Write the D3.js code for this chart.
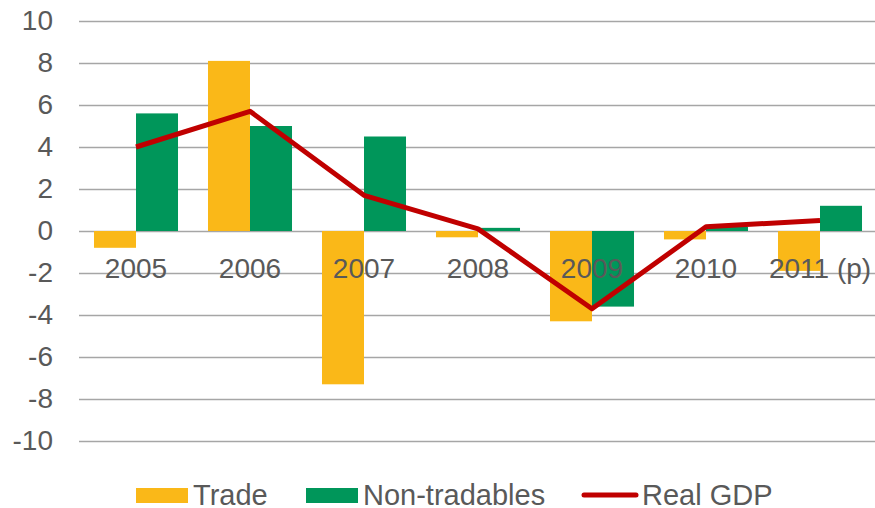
<!DOCTYPE html>
<html>
<head>
<meta charset="utf-8">
<script src="https://cdn.jsdelivr.net/npm/d3@7"></script>
<style>
  body { margin: 0; background: #fff; }
  text { font-family: "Liberation Sans", Arial, sans-serif; fill: #595959; }
</style>
</head>
<body>
<div id="chart"></div>
<script>
// data
var years = ["2005", "2006", "2007", "2008", "2009", "2010", "2011 (p)"]
var trade = [-0.8, 8.1, -7.3, -0.3, -4.3, -0.4, -1.9]
var nonTradables = [5.6, 5.0, 4.5, 0.15, -3.6, 0.2, 1.2]
var realGdp = [4.0, 5.7, 1.7, 0.1, -3.7, 0.2, 0.5]
var yTicks = [-10, -8, -6, -4, -2, 0, 2, 4, 6, 8, 10]

var svgWidth = 875
var svgHeight = 508

var margin = { top: 21, left: 79, right: -2 }
var plotBottom = 441

var svg = d3.select("#chart").append("svg")
    .attr("width", svgWidth)
    .attr("height", svgHeight)

var x = d3.scaleBand()
    .domain(years)
    .range([margin.left, svgWidth - margin.right])
    .paddingInner(0.263)
    .paddingOuter(0.1315)

var xSub = d3.scaleBand()
    .domain(["trade", "non"])
    .range([0, x.bandwidth()])

var y = d3.scaleLinear().domain([-10, 10]).range([plotBottom, margin.top])

// gridlines + y labels
var yAxis = d3.axisLeft(y)
    .tickValues(yTicks)
    .tickSize(-(svgWidth - margin.left))
    .tickPadding(26)
    .tickFormat(d => String(d))

var yG = svg.append("g")
    .attr("transform", `translate(${margin.left},0)`)
    .call(yAxis)
yG.select(".domain").remove()
yG.selectAll("line").attr("stroke", "#a6a6a6").attr("stroke-width", 1.6)
yG.selectAll("text")
    .attr("font-size", 28)
    .attr("fill", "#595959")
    .attr("font-family", "Liberation Sans, Arial, sans-serif")

// bars
var series = [
    { key: "trade", values: trade, color: "#fab818" },
    { key: "non", values: nonTradables, color: "#00965a" }
]

series.forEach(s => {
    svg.append("g").selectAll("rect")
        .data(s.values)
        .enter()
        .append("rect")
        .attr("x", (d, i) => x(years[i]) + xSub(s.key))
        .attr("width", xSub.bandwidth())
        .attr("y", d => y(Math.max(0, d)))
        .attr("height", d => Math.abs(y(d) - y(0)))
        .attr("fill", s.color)
})

// category labels sit just under the zero line
svg.append("g").selectAll("text")
    .data(years)
    .enter()
    .append("text")
    .attr("x", d => x(d) + x.bandwidth() / 2)
    .attr("y", y(0) + 47)
    .attr("text-anchor", "middle")
    .attr("font-size", 28)
    .text(d => d)

// real GDP line
var line = d3.line()
    .x((d, i) => x(years[i]) + x.bandwidth() / 2)
    .y(d => y(d))

svg.append("path")
    .datum(realGdp)
    .attr("d", line)
    .attr("fill", "none")
    .attr("stroke", "#c00000")
    .attr("stroke-width", 5)
    .attr("stroke-linejoin", "round")

// legend
var legend = svg.append("g").attr("class", "legend")

legend.append("rect")
    .attr("x", 136).attr("y", 488).attr("width", 52).attr("height", 15)
    .attr("fill", "#fab818")
legend.append("text")
    .attr("x", 193).attr("y", 505).attr("font-size", 29)
    .text("Trade")

legend.append("rect")
    .attr("x", 306).attr("y", 488).attr("width", 52).attr("height", 15)
    .attr("fill", "#00965a")
legend.append("text")
    .attr("x", 363).attr("y", 505).attr("font-size", 29)
    .text("Non-tradables")

legend.append("line")
    .attr("x1", 584).attr("x2", 636).attr("y1", 495).attr("y2", 495)
    .attr("stroke", "#c00000").attr("stroke-width", 5)
    .attr("stroke-linecap", "round")
legend.append("text")
    .attr("x", 642).attr("y", 505).attr("font-size", 29)
    .text("Real GDP")
</script>
</body>
</html>
